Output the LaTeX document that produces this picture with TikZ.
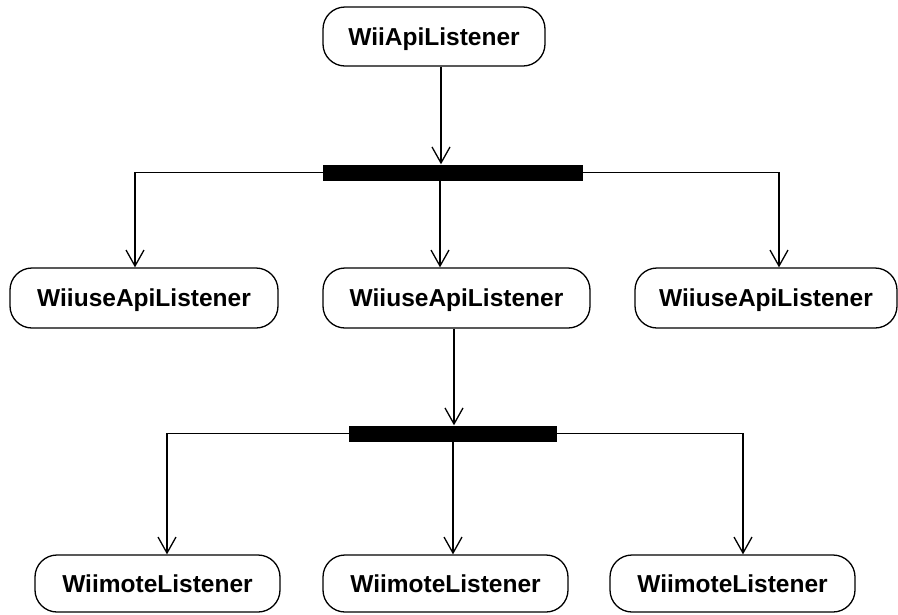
\documentclass[tikz,border=0pt]{standalone}
\usepackage{fontspec}
\setmainfont{Liberation Sans}
\usetikzlibrary{arrows.meta}
\begin{document}
\begin{tikzpicture}[x=1pt,y=-1pt,
  activity/.style={draw,line width=1.3pt,rounded corners=22pt,inner sep=0pt,
    text depth=0pt,font=\fontsize{24.5}{28}\selectfont\bfseries},
  forkbar/.style={fill=black,draw=none,inner sep=0pt,minimum height=16pt},
  flow/.style={line width=1.3pt,-{Straight Barb[length=16pt,width=18pt,line width=1.3pt]}}]
\useasboundingbox (0,0) rectangle (898,614);

% activities
\node[activity,minimum width=222pt,minimum height=59pt] (api) at (434,36.5) {WiiApiListener};
\node[forkbar,minimum width=260pt] (fork1) at (453,172.5) {};
\node[activity,minimum width=268pt,minimum height=60pt] (wu1) at (144,298) {WiiuseApiListener};
\node[activity,minimum width=267pt,minimum height=60pt] (wu2) at (456.5,298) {WiiuseApiListener};
\node[activity,minimum width=262pt,minimum height=60pt] (wu3) at (766,298) {WiiuseApiListener};
\node[forkbar,minimum width=208pt] (fork2) at (453,433.5) {};
\node[activity,minimum width=245pt,minimum height=57pt] (wm1) at (157.5,583.5) {WiimoteListener};
\node[activity,minimum width=245pt,minimum height=57pt] (wm2) at (445.5,583.5) {WiimoteListener};
\node[activity,minimum width=245pt,minimum height=57pt] (wm3) at (732.5,583.5) {WiimoteListener};

% first fork
\draw[flow] ([xshift=7pt]api.south) -- ([xshift=7pt]api.south |- fork1.north);
\draw[flow] (fork1.west) -| ([xshift=-9pt]wu1.north);
\draw[flow] ([xshift=-13pt]fork1.south) -- ([xshift=-13pt]fork1.south |- wu2.north);
\draw[flow] (fork1.east) -| ([xshift=13pt]wu3.north);

% second fork
\draw[flow] ([xshift=-2.5pt]wu2.south) -- ([xshift=-2.5pt]wu2.south |- fork2.north);
\draw[flow] (fork2.west) -| ([xshift=9.5pt]wm1.north);
\draw[flow] (fork2.south) -- (fork2.south |- wm2.north);
\draw[flow] (fork2.east) -| ([xshift=10.5pt]wm3.north);
\end{tikzpicture}
\end{document}
